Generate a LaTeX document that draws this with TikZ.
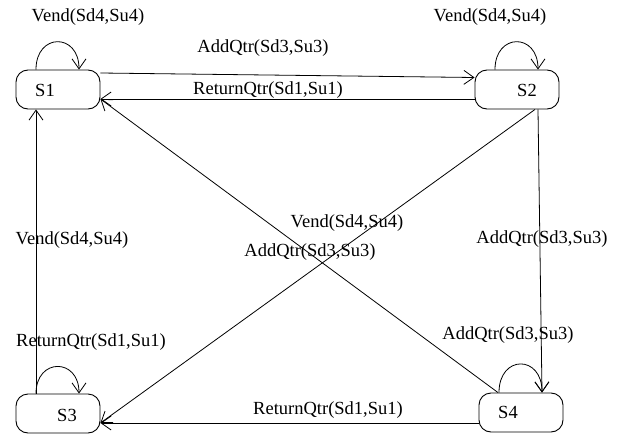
\documentclass[tikz,border=0pt]{standalone}
\usepackage{fontspec}
\setmainfont{Liberation Serif}
\usetikzlibrary{arrows.meta}
\begin{document}
\begin{tikzpicture}[x=1pt,y=-1pt,
  every node/.style={font=\fontsize{18.5}{20}\selectfont, inner sep=0pt},
  statebox/.style={draw, line width=0.9pt, rounded corners=12pt, minimum width=84pt, minimum height=39pt},
  conn/.style={line width=0.8pt, -{Straight Barb[length=10pt,width=14pt,line width=0.8pt]}}]
\useasboundingbox (0,0) rectangle (625,434);
% states
\node[statebox] (S1) at (58,89.5) {};
\node[statebox] (S2) at (517,89.5) {};
\node[statebox] (S3) at (58,413.5) {};
\node[statebox] (S4) at (521,412.5) {};
\node (S1t) at (45,90) {S1};
\node (S2t) at (527,90) {S2};
\node (S3t) at (67,415) {S3};
\node (S4t) at (508,412) {S4};
% self loops
\draw[conn] ([xshift=-22pt]S1.north) .. controls +(0,-37) and +(0,-37) .. ([xshift=21pt]S1.north);
\draw[conn] ([xshift=-22pt]S2.north) .. controls +(0,-37) and +(0,-37) .. ([xshift=21pt]S2.north);
\draw[conn] ([xshift=-22pt]S3.north) .. controls +(0,-36) and +(0,-36) .. ([xshift=21pt]S3.north);
\draw[conn] ([xshift=-22pt]S4.north) .. controls +(0,-38) and +(0,-38) .. ([xshift=21pt]S4.north);
% transitions
\draw[conn] ([yshift=16.5pt]S1.east) -- ([yshift=12pt]S2.west);
\draw[conn] ([yshift=-9.5pt]S2.west) -- ([yshift=-9.5pt]S1.east);
\draw[conn] ([xshift=-23pt]S4.north) -- ([yshift=-9.5pt]S1.east);
\draw[conn] ([xshift=18pt]S2.south) -- ([yshift=-9.5pt]S3.east);
\draw[conn] ([xshift=21pt]S2.south) -- ([xshift=21pt]S4.north);
\draw[conn] ([xshift=-22pt]S3.north) -- ([xshift=-22pt]S1.south);
\draw[conn] ([yshift=-10.5pt]S4.west) -- ([yshift=-9.5pt]S3.east);
% labels
\node (L1) at (88,17) {Vend(Sd4,Su4)};
\node (L2) at (490,17) {Vend(Sd4,Su4)};
\node (L3) at (263,48) {AddQtr(Sd3,Su3)};
\node (L4) at (268,90) {ReturnQtr(Sd1,Su1)};
\node (L5) at (347,223) {Vend(Sd4,Su4)};
\node (L6) at (310,252) {AddQtr(Sd3,Su3)};
\node (L7) at (542,239) {AddQtr(Sd3,Su3)};
\node (L8) at (72,240) {Vend(Sd4,Su4)};
\node (L9) at (91,342) {ReturnQtr(Sd1,Su1)};
\node (L10) at (508,335) {AddQtr(Sd3,Su3)};
\node (L11) at (328,410) {ReturnQtr(Sd1,Su1)};
\end{tikzpicture}
\end{document}
